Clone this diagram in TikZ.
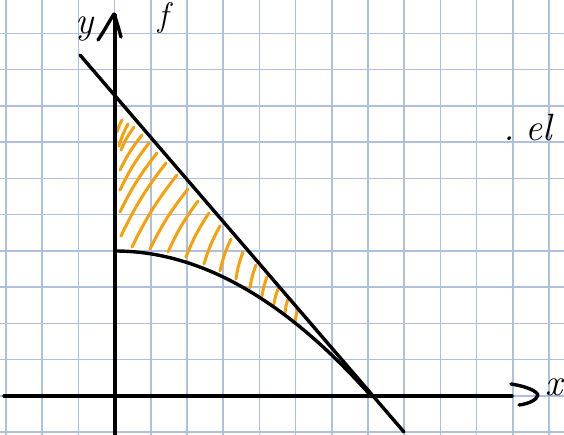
\documentclass[tikz,border=0pt]{standalone}
\definecolor{gridblue}{RGB}{175,192,221}
\definecolor{hatchorange}{RGB}{247,160,10}
\tikzset{
  gridline/.style={draw=gridblue, line width=1.5pt},
  pen/.style={draw=black, line width=3.4pt, line cap=round, line join=round},
  hatch/.style={draw=hatchorange, line width=3pt, line cap=round},
  hand/.style={inner sep=0pt, font=\fontsize{38}{38}\selectfont\itshape},
}
\begin{document}
\begin{tikzpicture}[x=1pt,y=-1pt]
\useasboundingbox (0,0) rectangle (564,435);
\fill[white] (0,0) rectangle (564,435);
% grid
\foreach \k in {0,...,15} \draw[gridline] ({6+36.2*\k},0) -- ({6+36.2*\k},435);
\foreach \k in {0,...,11} \draw[gridline] (0,{33.3+36.25*\k}) -- (564,{33.3+36.25*\k});
% hatching
\foreach \ax/\ay/\bx/\by in {
  117/132/122/120, 119/146/128/124, 121/150/134/127,
  120/170/142/135, 120/190/149/143, 120/212/157/153, 121/236/166/163,
  132/247/177/175, 150/249/188/189, 168/252/198/201, 186/257/209/213,
  204/264/220/226, 220/271/231/239, 236/279/243/252, 250/288/256/265,
  262/296/267/277, 274/304/278/289, 285/313/288/299, 295/322/298/309}
  \draw[hatch] (\ax,\ay) to[bend left=6] (\bx,\by);
% axes
\coordinate (yb) at (115,437);
\coordinate (yt) at (115,15);
\draw[pen] (yb) -- (yt);
\draw[pen] (98,40) .. controls (106,28) and (110,20) .. (114,14) .. controls (117,22) and (119,30) .. (121,37);
\coordinate (xl) at (4,396);
\coordinate (xr) at (512,396);
\draw[pen] (xl) -- (xr);
\draw[pen] (511,384) .. controls (524,386) and (536,390) .. (538,395) .. controls (537,400) and (528,404) .. (519,405);
% line and curve
\coordinate (la) at (80,55);
\coordinate (lb) at (404,432);
\draw[pen] (la) -- (lb);
\coordinate (ca) at (115,251);
\coordinate (cb) at (372,397);
\draw[pen] (ca) .. controls (200.7,251) and (286,300) .. (cb);
% labels
\node[hand, anchor=base] (ylab) at (85,34) {y};
\node[hand, anchor=base, font=\fontsize{34}{34}\selectfont\itshape] (flab) at (163,27) {f};
\node[hand, anchor=base] (dot) at (509,141) {.};
\node[hand, anchor=base west] (el) at (525,141) {el};
\node[hand, anchor=base] (xlab) at (554,395) {x};
\end{tikzpicture}
\end{document}
